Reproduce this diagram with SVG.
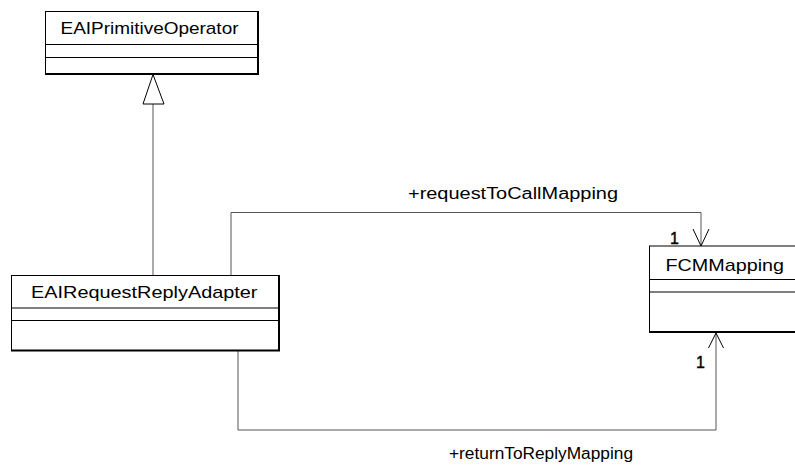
<svg xmlns="http://www.w3.org/2000/svg" width="795" height="465" viewBox="0 0 795 465">
<style>
.box{fill:#fff;stroke:#000;stroke-width:1}
.shadow{fill:none;stroke:#000;stroke-width:2}
.sep{stroke:#000;stroke-width:1}
.name{font-family:"Liberation Sans",Arial,sans-serif;font-size:17px;fill:#000}
.lbl{font-family:"Liberation Sans",Arial,sans-serif;font-size:16px;fill:#000}
.mult{font-family:"Liberation Sans",Arial,sans-serif;font-size:16px;fill:#000;stroke:#000;stroke-width:0.4}
.conn{fill:none;stroke:#555;stroke-width:1}
.head{fill:none;stroke:#000;stroke-width:1}
.gen{fill:#fff;stroke:#000;stroke-width:1}
</style>
<rect width="795" height="465" fill="#fff"/>
<g id="connectors">
  <path class="conn" d="M153,275 V104"/>
  <polygon class="gen" points="153,74.5 143,104 164,104"/>
  <path class="conn" d="M231,275 V212.5 H701 V246"/>
  <polyline class="head" points="693,229 701,246 709,229"/>
  <path class="conn" d="M238,351 V430 H716 V333"/>
  <polyline class="head" points="708.5,348 716,333 723.5,348"/>
  <text class="lbl" x="408" y="199" textLength="210" lengthAdjust="spacingAndGlyphs">+requestToCallMapping</text>
  <text class="lbl" x="449" y="458.5" textLength="184" lengthAdjust="spacingAndGlyphs">+returnToReplyMapping</text>
  <text class="mult" x="670" y="244">1</text>
  <text class="mult" x="696" y="367.5">1</text>
</g>
<g id="EAIPrimitiveOperator">
  <rect class="box" x="45.5" y="11.5" width="212.5" height="62.5"/>
  <path class="shadow" d="M258,11 V74 H45"/>
  <line class="sep" x1="45" y1="44.5" x2="258" y2="44.5"/>
  <line class="sep" x1="45" y1="57.5" x2="258" y2="57.5"/>
  <text class="name" x="60.5" y="33.5" textLength="178" lengthAdjust="spacingAndGlyphs">EAIPrimitiveOperator</text>
</g>
<g id="EAIRequestReplyAdapter">
  <rect class="box" x="11.5" y="275.5" width="267.5" height="75"/>
  <path class="shadow" d="M279,275 V350.5 H11"/>
  <line class="sep" x1="11" y1="308" x2="279" y2="308"/>
  <line class="sep" x1="11" y1="320.5" x2="279" y2="320.5"/>
  <text class="name" x="31" y="297.5" textLength="226.5" lengthAdjust="spacingAndGlyphs">EAIRequestReplyAdapter</text>
</g>
<g id="FCMMapping">
  <rect class="box" x="649.5" y="246" width="160" height="86"/>
  <path class="shadow" d="M649,332 H800"/>
  <line class="sep" x1="649" y1="279.5" x2="800" y2="279.5"/>
  <line class="sep" x1="649" y1="292" x2="800" y2="292"/>
  <text class="name" x="665.5" y="271" textLength="118.5" lengthAdjust="spacingAndGlyphs">FCMMapping</text>
</g>
</svg>
